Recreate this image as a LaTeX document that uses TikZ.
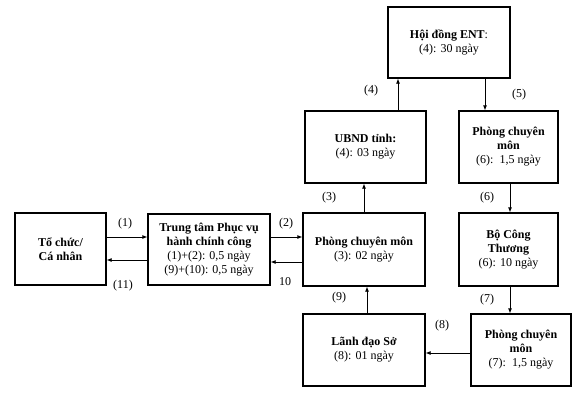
\documentclass[tikz,border=0pt]{standalone}
\usepackage{fontspec}
\setmainfont{Liberation Serif}
\usetikzlibrary{arrows.meta}
\tikzset{
  box/.style={draw, line width=1.3pt, inner sep=0pt, align=center, font=\fontsize{12}{14}\selectfont},
  arr/.style={line width=0.8pt, -{Latex[length=5pt,width=4pt]}},
  lbl/.style={font=\fontsize{12}{14}\selectfont, inner sep=0pt}
}
\begin{document}
\begin{tikzpicture}[x=1pt,y=-1pt]
\useasboundingbox (0,0) rectangle (576,400);
\node[box, minimum width=91pt, minimum height=72pt] (tc) at (60.5,249) {\textbf{Tổ chức/}\\\textbf{Cá nhân}};
\node[box, minimum width=122pt, minimum height=71pt] (tt) at (209,249.5) {\textbf{Trung tâm Phục vụ}\\\textbf{hành chính công}\\(1)+(2): 0,5 ngày\\(9)+(10): 0,5 ngày};
\node[box, minimum width=122pt, minimum height=73pt] (p3) at (364,249.5) {\textbf{Phòng chuyên môn}\\(3): 02 ngày};
\node[box, minimum width=121pt, minimum height=72pt] (ub) at (365.5,147) {\textbf{UBND tỉnh:}\\(4): 03 ngày};
\node[box, minimum width=122pt, minimum height=71pt] (hd) at (449,42.5) {\textbf{Hội đồng ENT}:\\(4): 30 ngày};
\node[box, minimum width=99pt, minimum height=72pt] (p6) at (508.5,147) {\textbf{Phòng chuyên}\\\textbf{môn}\\(6):\ \ 1,5 ngày};
\node[box, minimum width=99pt, minimum height=73pt] (bct) at (508.5,249.5) {\textbf{Bộ Công}\\\textbf{Thương}\\(6): 10 ngày};
\node[box, minimum width=100pt, minimum height=72pt] (p7) at (521,350) {\textbf{Phòng chuyên}\\\textbf{môn}\\(7):\ \ 1,5 ngày};
\node[box, minimum width=122pt, minimum height=72pt] (ld) at (364,350) {\textbf{Lãnh đạo Sở}\\(8): 01 ngày};

\draw[arr] (tc.east |- 0,237) -- (tt.west |- 0,237);
\draw[arr] (tt.west |- 0,260) -- (tc.east |- 0,260);
\draw[arr] (tt.east |- 0,237) -- (p3.west |- 0,237);
\draw[arr] (p3.west |- 0,262) -- (tt.east |- 0,262);
\draw[arr] (364,0 |- p3.north) -- (364,0 |- ub.south);
\draw[arr] (398,0 |- ub.north) -- (398,0 |- hd.south);
\draw[arr] (485,0 |- hd.south) -- (485,0 |- p6.north);
\draw[arr] (510,0 |- p6.south) -- (510,0 |- bct.north);
\draw[arr] (510,0 |- bct.south) -- (510,0 |- p7.north);
\draw[arr] (p7.west |- 0,353) -- (ld.east |- 0,353);
\draw[arr] (367,0 |- ld.north) -- (367,0 |- p3.south);

\node[lbl] (l1) at (125,224) {(1)};
\node[lbl] (l11) at (123,286) {(11)};
\node[lbl] (l2) at (286,224) {(2)};
\node[lbl] (l10) at (285,282) {10};
\node[lbl] (l3) at (329,198) {(3)};
\node[lbl] (l4) at (371,91) {(4)};
\node[lbl] (l5) at (519,95) {(5)};
\node[lbl] (l6) at (487,198) {(6)};
\node[lbl] (l7) at (487,300) {(7)};
\node[lbl] (l8) at (442,326) {(8)};
\node[lbl] (l9) at (339,298) {(9)};
\end{tikzpicture}
\end{document}
